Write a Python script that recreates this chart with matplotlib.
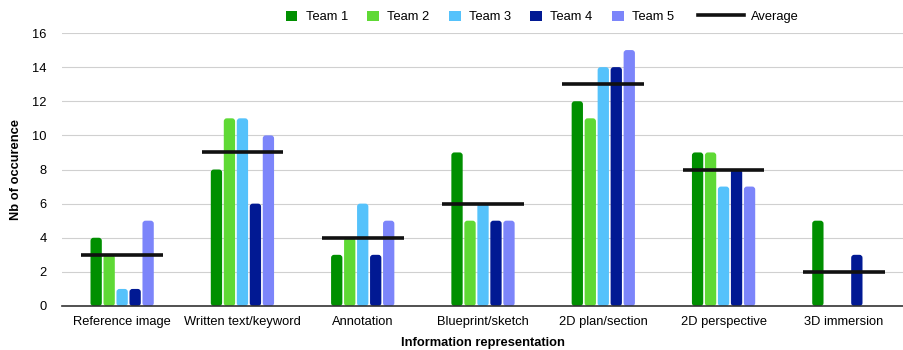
import matplotlib
matplotlib.use("Agg")
import matplotlib.pyplot as plt
import numpy as np
from matplotlib.lines import Line2D
from matplotlib.patches import FancyBboxPatch, Patch

categories = ["Reference image", "Written text/keyword", "Annotation", "Blueprint/sketch",
              "2D plan/section", "2D perspective", "3D immersion"]
team1 = [4, 8, 3, 9, 12, 9, 5]
team2 = [3, 11, 4, 5, 11, 9, 0]
team3 = [1, 11, 6, 6, 14, 7, 0]
team4 = [1, 6, 3, 5, 14, 8, 3]
team5 = [5, 10, 5, 5, 15, 7, 0]
average = [3, 9, 4, 6, 13, 8, 2]
series_names = ["Team 1", "Team 2", "Team 3", "Team 4", "Team 5"]
colors = ["#008f00", "#5fd935", "#55c2fb", "#011993", "#7c85fa"]

plt.rcParams['font.family'] = ['Liberation Sans', 'DejaVu Sans']
FS = 9.3

fig = plt.figure(figsize=(9.04, 3.5), dpi=100)
ax = fig.add_axes([62/904, 1-306/350, 842/904, (306-33)/350])

ax.set_xlim(-0.5, len(categories)-0.5)
ax.set_ylim(0, 16)

# aspect: data-y per pixel / data-x per pixel
aspect = (16/273) / (7/842)

x = np.arange(len(categories))
step = 0.108
width = 0.094
handles = []
for i, (vals, c, name) in enumerate(zip([team1, team2, team3, team4, team5], colors, series_names)):
    b = ax.bar(x + (i-2)*step, vals, width=width, color=c, label=name, zorder=3)
    for p, v in zip(b.patches, vals):
        p.set_visible(False)
        if v == 0:
            continue
        fb = FancyBboxPatch((p.get_x(), p.get_y()), p.get_width(), p.get_height(),
                            boxstyle="round,pad=0,rounding_size=0.025",
                            mutation_aspect=aspect, facecolor=c, edgecolor='none', zorder=3)
        ax.add_patch(fb)
    handles.append(Patch(facecolor=c, edgecolor='none'))

for xi, a in zip(x, average):
    ax.hlines(a, xi-0.34, xi+0.34, color='#111111', linewidth=2.6, zorder=4)
avg_handle = Line2D([0], [0], color='#111111', linewidth=2.6)

ax.set_yticks(range(0, 17, 2))
ax.set_xticks(x)
ax.set_xticklabels(categories, fontsize=FS)
ax.tick_params(axis='y', labelsize=FS, length=0, pad=11)
ax.tick_params(axis='x', length=0, pad=7)
ax.grid(axis='y', color='#d0d0d0', linewidth=0.8, zorder=0)
for s in ['top', 'right', 'left']:
    ax.spines[s].set_visible(False)
ax.spines['bottom'].set_color('#333333')
ax.spines['bottom'].set_linewidth(1.2)
ax.spines['bottom'].set_zorder(5)
ax.set_ylabel("Nb of occurence", fontsize=FS, fontweight='bold')
ax.yaxis.set_label_coords(-40/842, 0.5)
ax.set_xlabel("Information representation", fontsize=FS, fontweight='bold', labelpad=7)

leg1 = fig.legend(handles, series_names, loc='center left',
                  bbox_to_anchor=(274/904, 1-17/350), ncol=5, frameon=False, fontsize=FS,
                  handlelength=0.9, handleheight=0.9, columnspacing=1.5, handletextpad=0.65)
leg2 = fig.legend([avg_handle], ["Average"], loc='center left',
                  bbox_to_anchor=(686/904, 1-17/350), frameon=False, fontsize=FS,
                  handlelength=3.6, handletextpad=0.5)

fig.savefig("out.png", dpi=100)
